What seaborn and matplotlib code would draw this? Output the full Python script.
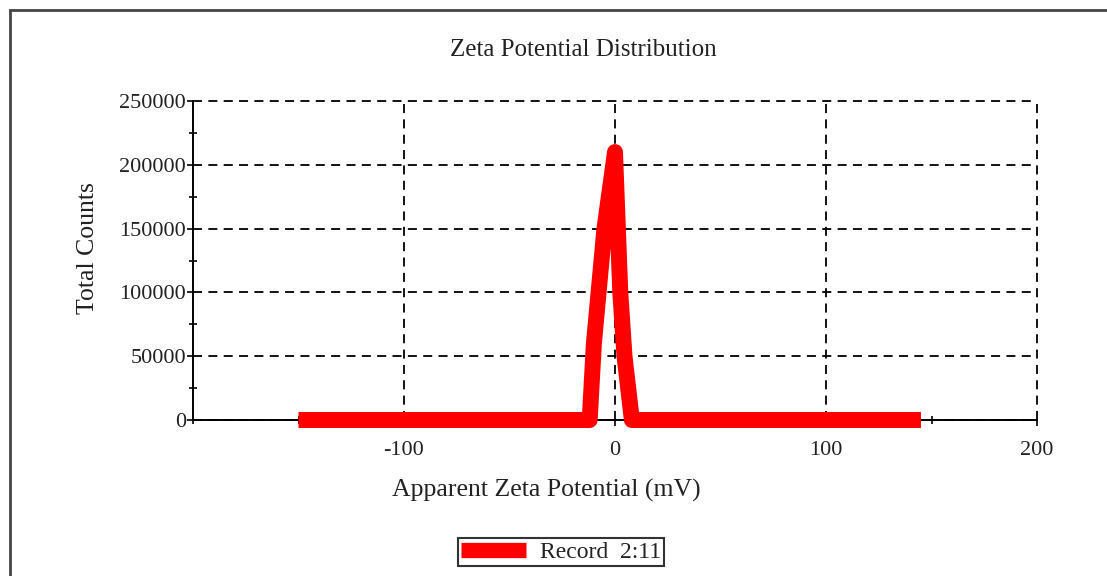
import matplotlib
matplotlib.use("Agg")
import matplotlib.pyplot as plt
from matplotlib.patches import Rectangle
from matplotlib.ticker import MultipleLocator
import seaborn as sns
import pandas as pd

# Zeta potential distribution (mV vs total counts)
zeta_mv = [-150, -12, -10, -5, 0, 2.5, 4.5, 8, 145]
total_counts = [0, 0, 60000, 150000, 210000, 100000, 50000, 0, 0]
series_label = "Record  2:11"

x_ticks = [-100, 0, 100, 200]
y_ticks = [0, 50000, 100000, 150000, 200000, 250000]

sns.set_theme(style="white")
plt.rcParams["font.family"] = ["Liberation Serif", "DejaVu Serif"]

W, H = 1107, 576
fig = plt.figure(figsize=(W / 100, H / 100), dpi=100)
ax = fig.add_axes([193 / W, 1 - 420 / H, (1037 - 193) / W, (420 - 101) / H])

df = pd.DataFrame({"zeta": zeta_mv, "counts": total_counts})
sns.lineplot(data=df, x="zeta", y="counts", ax=ax, color="#ff0000",
             linewidth=11.5, label=series_label, sort=False,
             solid_joinstyle="round", solid_capstyle="butt", zorder=3)
for ln in ax.get_lines():
    ln.set_clip_on(False)

ax.set_xlim(-200, 200)
ax.set_ylim(0, 250000)
ax.set_xticks(x_ticks)
ax.set_yticks(y_ticks)
ax.set_xticklabels([str(v) for v in x_ticks])
ax.set_yticklabels([str(v) for v in y_ticks])
ax.xaxis.set_minor_locator(MultipleLocator(50))
ax.yaxis.set_minor_locator(MultipleLocator(25000))

ax.grid(True, which="major", color="black", linestyle=(0, (5, 3.5)), linewidth=1.3)
for gl in ax.get_xgridlines() + ax.get_ygridlines():
    gl.set_clip_on(False)
for s in ["top", "right"]:
    ax.spines[s].set_visible(False)
for s in ["left", "bottom"]:
    ax.spines[s].set_color("black")
    ax.spines[s].set_linewidth(1.4)
    ax.spines[s].set_zorder(2)

text_color = "#222222"
ax.tick_params(which="major", direction="out", length=4, width=1.2, color="black",
               labelsize=16, labelcolor=text_color, pad=1,
               left=True, bottom=True)
ax.tick_params(which="minor", direction="inout", length=6, width=1.2, color="black",
               left=True, bottom=True)
ax.tick_params(axis="x", pad=11)

ax.set_xlabel("Apparent Zeta Potential (mV)", fontsize=18.5, color=text_color, labelpad=12)
ax.set_ylabel("Total Counts", fontsize=18.5, color=text_color, labelpad=8)
ax.xaxis.set_label_coords((546 - 193) / (1037 - 193), -(490 - 420) / (420 - 101))
ax.yaxis.set_label_coords(-(193 - 88) / (1037 - 193), (420 - 248) / (420 - 101))
ax.xaxis.label.set_verticalalignment("center")
ax.yaxis.label.set_verticalalignment("center")
fig.text(583 / W, 1 - 50 / H, "Zeta Potential Distribution", fontsize=18,
         color=text_color, ha="center", va="center")

leg = ax.legend(loc="center", bbox_to_anchor=(561 / W, 1 - 552 / H),
                bbox_transform=fig.transFigure, frameon=True, fancybox=False,
                fontsize=17, handlelength=2.75, handletextpad=0.6,
                borderpad=0.12, borderaxespad=0)
leg.get_frame().set_edgecolor("black")
leg.get_frame().set_linewidth(1.5)
for h in leg.get_lines():
    h.set_linewidth(11)
for t in leg.get_texts():
    t.set_color(text_color)

# outer frame of the plot page
fig.patches.append(Rectangle((10 / W, -0.2), 1.2, 1.2 - 10 / H,
                             transform=fig.transFigure, fill=False,
                             edgecolor="#444444", linewidth=2))

fig.savefig("out.png", dpi=100)
